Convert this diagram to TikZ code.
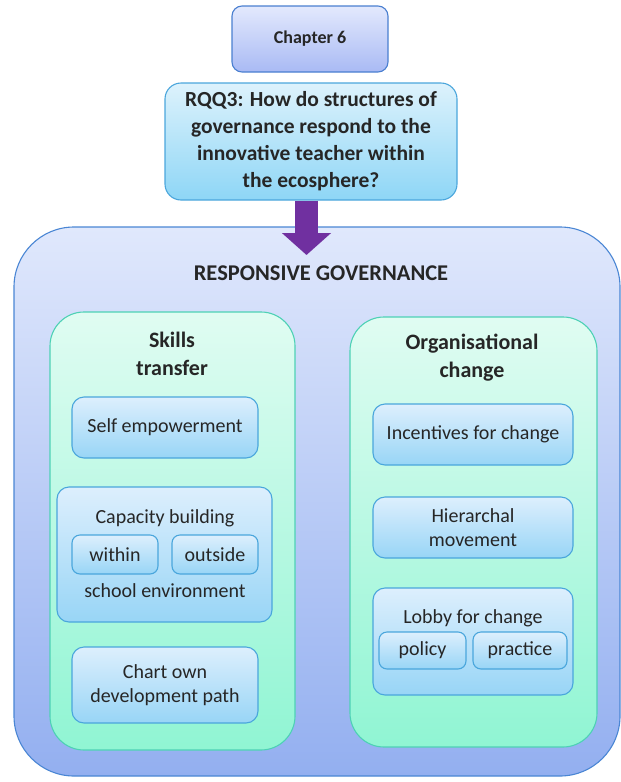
\documentclass[tikz,border=0pt]{standalone}
\usepackage{fontspec}
\setmainfont{Carlito}
\usetikzlibrary{arrows.meta}
\definecolor{chapTop}{HTML}{E3E9FD}
\definecolor{chapBot}{HTML}{A9BAF4}
\definecolor{chapLine}{HTML}{4A7FD0}
\definecolor{rqTop}{HTML}{DDF2FC}
\definecolor{rqBot}{HTML}{8ED6F6}
\definecolor{rqLine}{HTML}{4BA6DC}
\definecolor{outTop}{HTML}{E0E8FC}
\definecolor{outBot}{HTML}{93AFF0}
\definecolor{outLine}{HTML}{4A86D4}
\definecolor{grTop}{HTML}{E0FCF2}
\definecolor{grBot}{HTML}{90F5D3}
\definecolor{grLine}{HTML}{4ED1B5}
\definecolor{itTop}{HTML}{DDEFFD}
\definecolor{itBot}{HTML}{98D5F6}
\definecolor{itLine}{HTML}{4AA6DC}
\definecolor{arrPurple}{HTML}{7030A0}
\definecolor{txt}{HTML}{262626}
\tikzset{
  box/.style={rectangle, inner sep=0pt, align=center, text=txt, line width=1.1pt},
  chapbox/.style={box, draw=chapLine, top color=chapTop, bottom color=chapBot, rounded corners=10pt,
    font=\fontsize{18}{21}\selectfont\bfseries},
  rqbox/.style={box, draw=rqLine, top color=rqTop, bottom color=rqBot, rounded corners=16pt,
    font=\fontsize{21.5}{27}\selectfont\bfseries},
  outerbox/.style={box, draw=outLine, top color=outTop, bottom color=outBot, rounded corners=60pt},
  greenbox/.style={box, draw=grLine, top color=grTop, bottom color=grBot, rounded corners=34pt},
  itembox/.style={box, draw=itLine, top color=itTop, bottom color=itBot, rounded corners=12pt,
    font=\fontsize{20}{24}\selectfont},
  subbox/.style={itembox, rounded corners=8pt},
  gtitle/.style={align=center, text=txt, font=\fontsize{22}{28}\selectfont\bfseries},
  plain/.style={align=center, text=txt, font=\fontsize{20}{24}\selectfont},
  bigarrow/.style={line width=23pt, draw=arrPurple, -{Triangle[width=48pt,length=22pt]}}
}
\begin{document}
\begin{tikzpicture}[x=1pt,y=-1pt]
\useasboundingbox (0,0) rectangle (621,782);
% outer container
\node[outerbox, minimum width=606pt, minimum height=549pt] (outer) at (317,501.5) {};
\node[text=txt, font=\fontsize{22.5}{25}\selectfont\bfseries] (rg) at (321,273) {RESPONSIVE GOVERNANCE};
% green columns
\node[greenbox, minimum width=245pt, minimum height=438pt] (left) at (172.5,531) {};
\node[greenbox, minimum width=247pt, minimum height=430pt] (right) at (473.5,532) {};
\node[gtitle] (lt) at (172,354) {Skills\\transfer};
\node[gtitle] (rt) at (472,358) {Organisational\\change};
% left items
\node[itembox, minimum width=186pt, minimum height=61pt] (self) at (165,427.5) {Self empowerment};
\node[itembox, minimum width=215pt, minimum height=135pt] (cap) at (164.5,554.5) {};
\node[plain] (capt) at (165,518) {Capacity building};
\node[subbox, minimum width=86pt, minimum height=39pt] (within) at (115,554.5) {within};
\node[subbox, minimum width=86pt, minimum height=39pt] (outside) at (215,554.5) {outside};
\node[plain] (school) at (165,591) {school environment};
\node[itembox, minimum width=186pt, minimum height=76pt] (chart) at (165,685) {Chart own\\development path};
% right items
\node[itembox, minimum width=200pt, minimum height=61pt] (incent) at (473,434.5) {Incentives for change};
\node[itembox, minimum width=200pt, minimum height=61pt] (hier) at (473,527.5) {Hierarchal\\movement};
\node[itembox, minimum width=200pt, minimum height=107pt] (lobby) at (473,641.5) {};
\node[plain] (lobbyt) at (473,618) {Lobby for change};
\node[subbox, minimum width=87pt, minimum height=37pt] (policy) at (422.5,650.5) {policy};
\node[subbox, minimum width=94pt, minimum height=37pt] (practice) at (520,650.5) {practice};
% top boxes
\node[chapbox, minimum width=156pt, minimum height=66pt] (chap) at (310,39) {Chapter 6};
\node[rqbox, minimum width=292pt, minimum height=117pt] (rq) at (311,141.5)
  {RQQ3: How do structures of\\governance respond to the\\innovative teacher within\\the ecosphere?};
% arrow
\coordinate (tip) at (306.5,255);
\draw[bigarrow] (rq.south -| tip) -- (tip);
\end{tikzpicture}
\end{document}
